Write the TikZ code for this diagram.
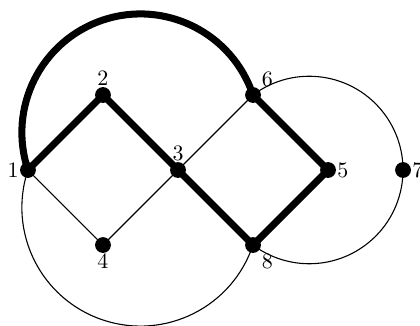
\documentclass[tikz,border=0pt]{standalone}
\usepackage{tikz}

\tikzset{
  vertex/.style={circle,fill=black,inner sep=0pt,minimum size=6pt},
  bold edge/.style={line width=3.2pt},
  thin edge/.style={line width=0.5pt}
}

\begin{document}
\begin{tikzpicture}[scale=1.2,line join=round,label distance=-2.5pt]
  \useasboundingbox (-0.373,-2.067) rectangle (5.227,2.267);
  \node[vertex,label=left:{$1$}] (v1) at (0,0) {};
  \node[vertex,label=above:{$2$}] (v2) at (1,1) {};
  \node[vertex,label=above:{$3$}] (v3) at (2,0) {};
  \node[vertex,label=below:{$4$}] (v4) at (1,-1) {};
  \node[vertex,label=right:{$5$}] (v5) at (4,0) {};
  \node[vertex,label=above right:{$6$}] (v6) at (3,1) {};
  \node[vertex,label=right:{$7$}] (v7) at (5,0) {};
  \node[vertex,label=below right:{$8$}] (v8) at (3,-1) {};
  % thin edges and arcs
  \draw[thin edge] (v1.center) -- (v4.center) -- (v3.center) -- (v6.center);
  \draw[thin edge] (v1.center) arc[start angle=161.57, end angle=341.57, radius=1.5811];
  \draw[thin edge] (v6.center) arc[start angle=126.87, end angle=-126.87, radius=1.25];
  % bold path
  \draw[bold edge] (v1.center) -- (v2.center) -- (v3.center) -- (v8.center) -- (v5.center) -- (v6.center);
  \draw[bold edge] (v1.center) arc[start angle=198.43, end angle=18.43, radius=1.5811];
  % dots on top
  \foreach \v in {v1,v2,v3,v4,v5,v6,v7,v8} \fill (\v) circle (3pt);
\end{tikzpicture}
\end{document}
